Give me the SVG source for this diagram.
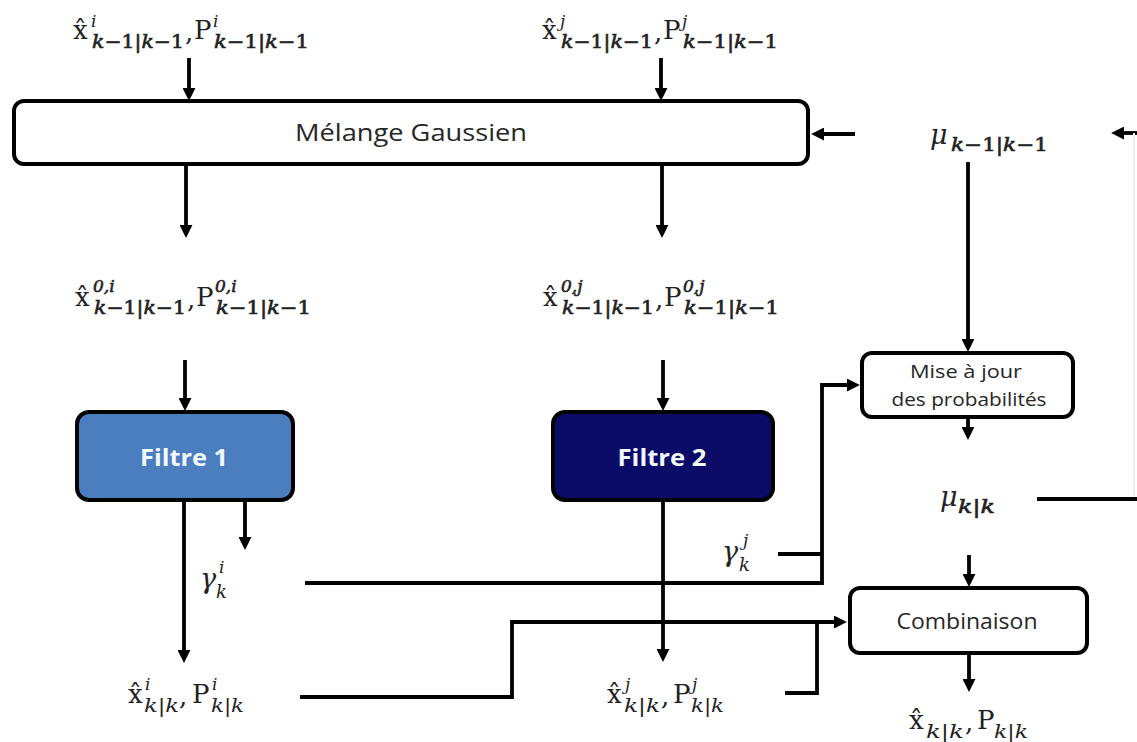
<svg xmlns="http://www.w3.org/2000/svg" width="1137" height="742" viewBox="0 0 1137 742">
<style>
.box{fill:#fff;stroke:#000;stroke-width:4}
.ln{fill:none;stroke:#000;stroke-width:3.8}
.lbl{font-family:"Open Sans","Liberation Sans",sans-serif;fill:#262626;text-anchor:middle}
.ft{font-family:"Open Sans","Liberation Sans",sans-serif;font-weight:bold;fill:#f2f8ff;text-anchor:middle;font-size:24px}
.m{font-family:"DejaVu Serif","Liberation Serif",serif;font-size:26px;fill:#222}
.sup{font-family:"DejaVu Serif","Liberation Serif",serif;font-size:17px;font-style:italic;fill:#222}
.sub{font-family:"DejaVu Serif","Liberation Serif",serif;font-size:18px;fill:#222}
.b{stroke:#222;stroke-width:0.6}
.i{font-style:italic}
.gr{font-family:"DejaVu Serif","Liberation Serif",serif;font-size:27px;font-style:italic;fill:#222}
</style>
<defs>
<marker id="ah" viewBox="0 0 10 10" refX="7" refY="5" markerWidth="13" markerHeight="13" markerUnits="userSpaceOnUse" orient="auto"><path d="M0,0 L10,5 L0,10 z" fill="#000"/></marker>
</defs>

<g id="connectors">
<path class="ln" d="M189,58 V97" marker-end="url(#ah)"/>
<path class="ln" d="M661,58 V97" marker-end="url(#ah)"/>
<path class="ln" d="M855,134 H815" marker-end="url(#ah)"/>
<path class="ln" d="M1137,133 H1115" marker-end="url(#ah)"/>
<path d="M1134,133 V499" fill="none" stroke="#f0f0f0" stroke-width="2"/>
<path class="ln" d="M186,165 V234" marker-end="url(#ah)"/>
<path class="ln" d="M662,165 V234" marker-end="url(#ah)"/>
<path class="ln" d="M185,360 V407" marker-end="url(#ah)"/>
<path class="ln" d="M663,360 V407" marker-end="url(#ah)"/>
<path class="ln" d="M968,162 V348" marker-end="url(#ah)"/>
<path class="ln" d="M968,417 V436" marker-end="url(#ah)"/>
<path class="ln" d="M184,500 V659" marker-end="url(#ah)"/>
<path class="ln" d="M245,500 V546" marker-end="url(#ah)"/>
<path class="ln" d="M305,583 H822 V385 H856" marker-end="url(#ah)"/>
<path class="ln" d="M778,554 H822"/>
<path class="ln" d="M663,500 V658" marker-end="url(#ah)"/>
<path class="ln" d="M300,697 H512 V622 H843" marker-end="url(#ah)"/>
<path class="ln" d="M785,693 H817 V622"/>
<path class="ln" d="M1037,499 H1137"/>
<path class="ln" d="M969,555 V583" marker-end="url(#ah)"/>
<path class="ln" d="M969,653 V688" marker-end="url(#ah)"/>
</g>

<g id="melange">
<rect class="box" x="14" y="101" width="794" height="63" rx="10"/>
<text class="lbl" x="411" y="141" font-size="23" textLength="232" lengthAdjust="spacingAndGlyphs">Mélange Gaussien</text>
</g>

<g id="filtre1">
<rect x="77" y="412" width="216" height="88" rx="12" fill="#4A7EBE" stroke="#000" stroke-width="4"/>
<text class="ft" x="184" y="466" textLength="88" lengthAdjust="spacingAndGlyphs">Filtre 1</text>
</g>

<g id="filtre2">
<rect x="553" y="412" width="220" height="88" rx="12" fill="#0B0B68" stroke="#000" stroke-width="4"/>
<text class="ft" x="662" y="466" textLength="89" lengthAdjust="spacingAndGlyphs">Filtre 2</text>
</g>

<g id="miseajour">
<rect class="box" x="862" y="353" width="211" height="64" rx="10"/>
<text class="lbl" x="966" y="378" font-size="19" textLength="112" lengthAdjust="spacingAndGlyphs">Mise à jour</text>
<text class="lbl" x="969" y="406" font-size="19" textLength="155" lengthAdjust="spacingAndGlyphs">des probabilités</text>
</g>

<g id="combinaison">
<rect class="box" x="850" y="588" width="237" height="65" rx="10"/>
<text class="lbl" x="967" y="629" font-size="21" textLength="141" lengthAdjust="spacingAndGlyphs">Combinaison</text>
</g>

<g id="in-i">
<text class="m" x="73" y="39">x̂</text>
<text class="sup" x="91" y="27">i</text>
<text class="sub b" x="92" y="48" textLength="92" lengthAdjust="spacingAndGlyphs"><tspan class="i">k</tspan>−1|<tspan class="i">k</tspan>−1</text>
<text class="m" x="185" y="41">,</text>
<text class="m" x="194" y="39">P</text>
<text class="sup" x="213" y="27">i</text>
<text class="sub b" x="214" y="48" textLength="95" lengthAdjust="spacingAndGlyphs"><tspan class="i">k</tspan>−1|<tspan class="i">k</tspan>−1</text>
</g>

<g id="in-j">
<text class="m" x="542" y="39">x̂</text>
<text class="sup" x="560" y="27">j</text>
<text class="sub b" x="561" y="48" textLength="92" lengthAdjust="spacingAndGlyphs"><tspan class="i">k</tspan>−1|<tspan class="i">k</tspan>−1</text>
<text class="m" x="654" y="41">,</text>
<text class="m" x="663" y="39">P</text>
<text class="sup" x="682" y="27">j</text>
<text class="sub b" x="683" y="48" textLength="95" lengthAdjust="spacingAndGlyphs"><tspan class="i">k</tspan>−1|<tspan class="i">k</tspan>−1</text>
</g>

<g id="mix-i">
<text class="m" x="75" y="306">x̂</text>
<text class="sup b" x="93" y="292" font-style="normal">0,<tspan class="i">i</tspan></text>
<text class="sub b" x="94" y="314" textLength="92" lengthAdjust="spacingAndGlyphs"><tspan class="i">k</tspan>−1|<tspan class="i">k</tspan>−1</text>
<text class="m" x="187" y="308">,</text>
<text class="m" x="196" y="306">P</text>
<text class="sup b" x="215" y="292" font-style="normal">0,<tspan class="i">i</tspan></text>
<text class="sub b" x="216" y="314" textLength="95" lengthAdjust="spacingAndGlyphs"><tspan class="i">k</tspan>−1|<tspan class="i">k</tspan>−1</text>
</g>

<g id="mix-j">
<text class="m" x="543" y="306">x̂</text>
<text class="sup b" x="561" y="292" font-style="normal">0,<tspan class="i">j</tspan></text>
<text class="sub b" x="562" y="314" textLength="92" lengthAdjust="spacingAndGlyphs"><tspan class="i">k</tspan>−1|<tspan class="i">k</tspan>−1</text>
<text class="m" x="655" y="308">,</text>
<text class="m" x="664" y="306">P</text>
<text class="sup b" x="683" y="292" font-style="normal">0,<tspan class="i">j</tspan></text>
<text class="sub b" x="684" y="314" textLength="95" lengthAdjust="spacingAndGlyphs"><tspan class="i">k</tspan>−1|<tspan class="i">k</tspan>−1</text>
</g>

<g id="mu-prev">
<text class="gr" x="930" y="144">μ</text>
<text class="sub b" x="951" y="151" textLength="97" lengthAdjust="spacingAndGlyphs"><tspan class="i">k</tspan>−1|<tspan class="i">k</tspan>−1</text>
</g>

<g id="mu-k">
<text class="gr" x="940" y="506">μ</text>
<text class="sub b i" x="958" y="513" textLength="37" lengthAdjust="spacingAndGlyphs">k|k</text>
</g>

<g id="gamma-i">
<text class="gr" x="200" y="588">γ</text>
<text class="sup" x="219" y="573">i</text>
<text class="sub i" x="216" y="598">k</text>
</g>

<g id="gamma-j">
<text class="gr" x="722" y="561">γ</text>
<text class="sup" x="743" y="546">j</text>
<text class="sub i" x="739" y="571">k</text>
</g>

<g id="out-i">
<text class="m" x="128" y="703">x̂</text>
<text class="sup" x="145" y="690">i</text>
<text class="sub i" x="144" y="712" textLength="35" lengthAdjust="spacingAndGlyphs">k|k</text>
<text class="m" x="179" y="705">,</text>
<text class="m" x="192" y="703">P</text>
<text class="sup" x="212" y="690">i</text>
<text class="sub i" x="211" y="712" textLength="33" lengthAdjust="spacingAndGlyphs">k|k</text>
</g>

<g id="out-j">
<text class="m" x="607" y="703">x̂</text>
<text class="sup" x="625" y="690">j</text>
<text class="sub i" x="624" y="712" textLength="36" lengthAdjust="spacingAndGlyphs">k|k</text>
<text class="m" x="661" y="705">,</text>
<text class="m" x="673" y="703">P</text>
<text class="sup" x="692" y="690">j</text>
<text class="sub i" x="691" y="712" textLength="33" lengthAdjust="spacingAndGlyphs">k|k</text>
</g>

<g id="out">
<text class="m" x="909" y="729">x̂</text>
<text class="sub i" x="926" y="738" textLength="38" lengthAdjust="spacingAndGlyphs">k|k</text>
<text class="m" x="965" y="731">,</text>
<text class="m" x="977" y="729">P</text>
<text class="sub i" x="994" y="738" textLength="34" lengthAdjust="spacingAndGlyphs">k|k</text>
</g>
</svg>
